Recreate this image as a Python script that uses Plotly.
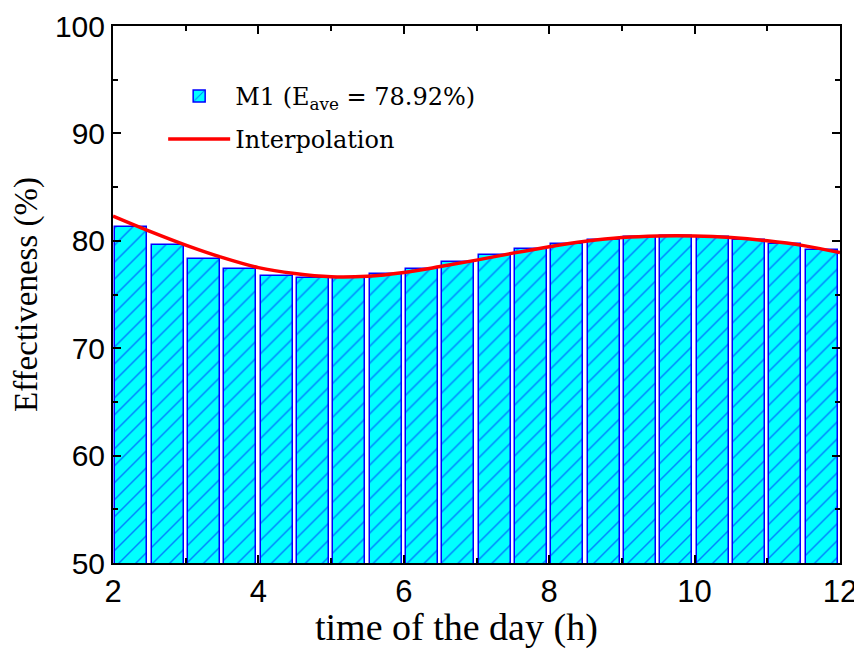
import plotly.graph_objects as go

# Bar data: 0.5 h bins from 2 h to 12 h
bar_x = [2.25, 2.75, 3.25, 3.75, 4.25, 4.75, 5.25, 5.75, 6.25, 6.75,
         7.25, 7.75, 8.25, 8.75, 9.25, 9.75, 10.25, 10.75, 11.25, 11.75]
bar_y = [81.3, 79.65, 78.3, 77.35, 76.75, 76.5, 76.5, 76.95, 77.4, 78.0,
         78.7, 79.25, 79.7, 80.1, 80.35, 80.45, 80.35, 80.1, 79.7, 79.1]

# Interpolation curve
curve_x = [2.0, 2.5, 3.0, 3.5, 4.0, 4.5, 5.0, 5.5, 6.0, 6.5, 7.0,
           7.5, 8.0, 8.5, 9.0, 9.5, 10.0, 10.5, 11.0, 11.5, 12.0]
curve_y = [82.3, 80.9, 79.6, 78.45, 77.5, 76.95, 76.65, 76.7, 77.05, 77.6, 78.2,
           78.85, 79.45, 79.95, 80.3, 80.45, 80.45, 80.3, 80.0, 79.55, 78.9]

legend_bar = "M1 (E<sub>ave</sub> = 78.92%)"
legend_line = "Interpolation"
x_title = "time of the day (h)"
y_title = "Effectiveness (%)"

fig = go.Figure()
fig.add_trace(go.Bar(
    x=bar_x, y=bar_y, width=0.44, name=legend_bar, legendgroup="a",
    marker=dict(color="#00FFFF",
                line=dict(color="#0000FF", width=1.5),
                pattern=dict(shape="/", fgcolor="#0000FF", bgcolor="#00FFFF",
                             size=12, solidity=0.12)),
))
fig.add_trace(go.Scatter(
    x=curve_x, y=curve_y, mode="lines", name=legend_line, legendgroup="b",
    line=dict(color="#FF0000", width=3.5, shape="spline", smoothing=1.0),
))

serif = "Liberation Serif, Times New Roman, serif"
sans = "Liberation Sans, Arial, sans-serif"

axis_common = dict(
    showline=True, linecolor="black", linewidth=2, mirror="ticks",
    ticks="inside", ticklen=8, tickwidth=2, tickcolor="black",
    showgrid=False, zeroline=False, automargin=False,
)

fig.add_annotation(
    text=x_title, xref="paper", yref="paper", x=0.472, y=-0.12,
    xanchor="center", yanchor="middle", showarrow=False,
    font=dict(family=serif, size=38, color="black"),
)

fig.update_layout(
    width=854, height=641,
    margin=dict(l=105, r=22, t=18, b=86),
    plot_bgcolor="white", paper_bgcolor="white",
    showlegend=True,
    legend=dict(x=0.069, y=0.911, xanchor="left", yanchor="top",
                bgcolor="rgba(0,0,0,0)",
                font=dict(family="DejaVu Serif, Georgia, serif", size=24, color="black"),
                itemwidth=62, tracegroupgap=9),
    xaxis=dict(range=[2, 12], dtick=2,
               minor=dict(dtick=1, ticks="inside", ticklen=5, tickwidth=2, tickcolor="black"),
               tickfont=dict(family=sans, size=31, color="black"),
               **axis_common),
    yaxis=dict(range=[50, 100], dtick=10,
               minor=dict(dtick=5, ticks="inside", ticklen=5, tickwidth=2, tickcolor="black"),
               tickfont=dict(family=sans, size=30, color="black"),
               title=dict(text=y_title, standoff=8,
                          font=dict(family=serif, size=33, color="black")),
               **axis_common),
    bargap=0,
)

fig.write_html("out.html")
